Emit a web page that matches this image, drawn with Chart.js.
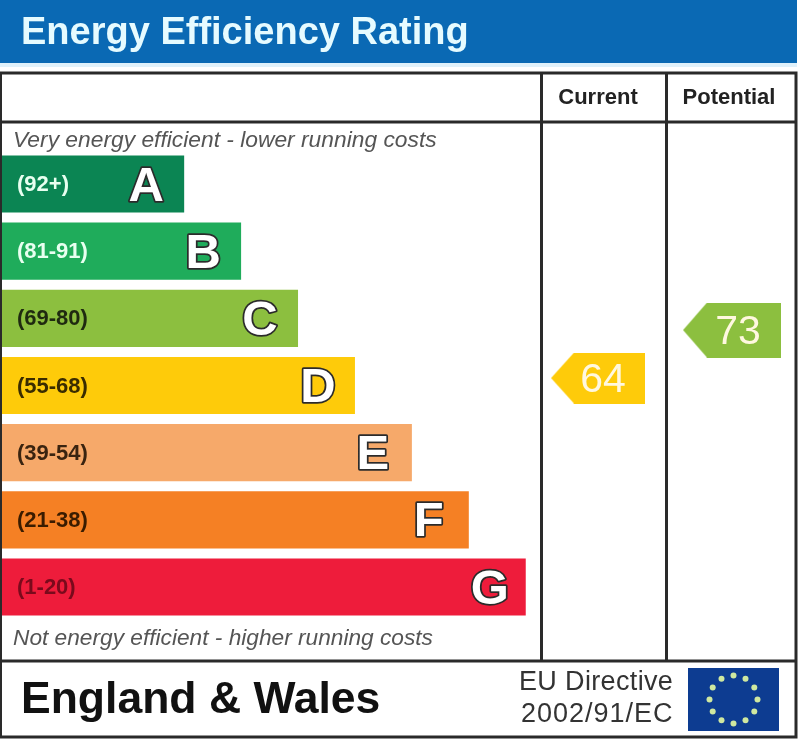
<!DOCTYPE html>
<html><head><meta charset="utf-8">
<style>html,body{margin:0;padding:0;background:#fff}canvas{display:block}</style>
<script src="https://cdn.jsdelivr.net/npm/chart.js@4"></script>
</head><body><canvas id="c" width="800" height="742"></canvas>
<script>
const bandLetters = ['A','B','C','D','E','F','G'];
const bandRanges = ['(92+)','(81-91)','(69-80)','(55-68)','(39-54)','(21-38)','(1-20)'];
const bandLengths = [32,42,52,62,72,82,92];
const bandColors = ['#0b8553','#1fac5b','#8cbf3f','#fecb0a','#f6a96a','#f58024','#ee1c3b'];
const rangeColors = ['#e8fff0','#e8fff0','#1f2a10','#3a2c00','#3a2410','#3a1c00','#7a0a1c'];
const columnNames = ['Current','Potential'];
const columnIndex = [1,2];
const ratings = [64,73];
const ratingColors = ['#fecb0a','#8cbf3f'];
const titleText = 'Energy Efficiency Rating';
const topNote = 'Very energy efficient - lower running costs';
const bottomNote = 'Not energy efficient - higher running costs';
const regionText = 'England & Wales';
const directiveLines = ['EU Directive','2002/91/EC'];
const FONT = '"Liberation Sans", Arial, sans-serif';

function arrowImage(color, w, h, head){
  const c = document.createElement('canvas'); c.width = w; c.height = h;
  const g = c.getContext('2d');
  g.fillStyle = color; g.beginPath();
  g.moveTo(0,h/2); g.lineTo(head,0); g.lineTo(w,0); g.lineTo(w,h); g.lineTo(head,h); g.closePath(); g.fill();
  return c;
}
const arrowImages = [arrowImage(ratingColors[0],94,51,23), arrowImage(ratingColors[1],98,55,24)];

function txt(g, s, x, y, font, color, align, spacing){
  g.font = font; g.fillStyle = color; g.textAlign = align || 'left'; g.textBaseline = 'middle';
  g.letterSpacing = spacing || '0px';
  g.fillText(s, x, y);
  g.letterSpacing = '0px';
}

const frame = {
  id:'frame',
  beforeDatasetsDraw(chart){
    const g = chart.ctx; g.save();
    g.fillStyle = '#0a69b4'; g.fillRect(0,0,797,63);
    g.fillStyle = '#dff1fb'; g.fillRect(0,63,797,4);
    g.restore();
  },
  afterDatasetsDraw(chart){
    const g = chart.ctx; g.save();
    g.strokeStyle = '#2a2a2a'; g.lineWidth = 3;
    g.beginPath();
    g.moveTo(0,73); g.lineTo(796,73); g.lineTo(796,737); g.lineTo(0,737);
    g.moveTo(0,122); g.lineTo(796,122);
    g.moveTo(0,661); g.lineTo(796,661);
    g.moveTo(541.5,73); g.lineTo(541.5,661);
    g.moveTo(666.5,73); g.lineTo(666.5,661);
    g.moveTo(0.5,73); g.lineTo(0.5,737);
    g.stroke();
    txt(g, titleText, 21, 34, 'bold 38px '+FONT, '#e6fbff');
    txt(g, columnNames[0], 598, 98, 'bold 22px '+FONT, '#222', 'center');
    txt(g, columnNames[1], 729, 98, 'bold 22px '+FONT, '#222', 'center');
    txt(g, topNote, 13, 141, 'italic 22.8px '+FONT, '#555');
    txt(g, bottomNote, 13, 639, 'italic 22.7px '+FONT, '#555');
    const bars = chart.getDatasetMeta(0).data;
    const letterShift = [-38,-38,-38,-37,-39,-40,-36];
    bars.forEach((b,i)=>{
      txt(g, bandRanges[i], 17, b.y+1, 'bold 22px '+FONT, rangeColors[i]);
      g.font = 'bold 49px '+FONT; g.textAlign='center'; g.textBaseline='middle';
      g.lineJoin='round'; g.lineWidth=3.5; g.strokeStyle='#2b2b2b'; g.fillStyle='#fff';
      g.strokeText(bandLetters[i], b.x+letterShift[i], b.y+3);
      g.fillText(bandLetters[i], b.x+letterShift[i], b.y+3);
    });
    chart.getDatasetMeta(1).data.forEach((p,i)=>{
      txt(g, String(ratings[i]), p.x+5+i, p.y+3, '41px '+FONT, '#fff8e0', 'center');
    });
    txt(g, regionText, 21, 701, 'bold 44.5px '+FONT, '#111');
    txt(g, directiveLines[0], 519, 683, '27px '+FONT, '#333', 'left', '0.35px');
    txt(g, directiveLines[1], 521, 715, '27px '+FONT, '#333', 'left', '1px');
    g.fillStyle = '#0d3c91'; g.fillRect(688,668,91,63);
    g.fillStyle = '#cfe8a0';
    for(let k=0;k<12;k++){
      const a = k/12*Math.PI*2;
      g.beginPath(); g.arc(733.5+24*Math.sin(a), 699.5-24*Math.cos(a), 3, 0, Math.PI*2); g.fill();
    }
    g.restore();
  }
};

new Chart(document.getElementById('c'), {
  type:'bar',
  data:{
    labels: bandLetters,
    datasets:[
      {label:'Bands', data: bandLengths, backgroundColor: bandColors, borderWidth:0, grouped:false,
       barPercentage:1, categoryPercentage:0.85, xAxisID:'x', yAxisID:'y', order:2},
      {type:'scatter', label:'Ratings', indexAxis:'x', xAxisID:'xr', yAxisID:'yr', order:1,
       data: ratings.map((v,i)=>({x:columnIndex[i], y:v})),
       pointStyle: arrowImages, pointRadius:10, pointHoverRadius:10}
    ]
  },
  options:{
    indexAxis:'y', responsive:false, animation:false,
    layout:{autoPadding:false,padding:{left:2,right:1,top:150.4,bottom:121.4}},
    plugins:{legend:{display:false},tooltip:{enabled:false},title:{display:false}},
    scales:{
      x:{type:'linear',axis:'x',min:0,max:140,display:false},
      y:{type:'category',axis:'y',display:false,offset:true,grid:{display:false}},
      xr:{type:'linear',axis:'x',min:-3.448,max:2.5,bounds:'data',offset:false,display:false},
      yr:{type:'linear',axis:'y',min:18.5,max:106.7,bounds:'data',offset:false,display:false}
    }
  },
  plugins:[frame]
});
</script></body></html>
